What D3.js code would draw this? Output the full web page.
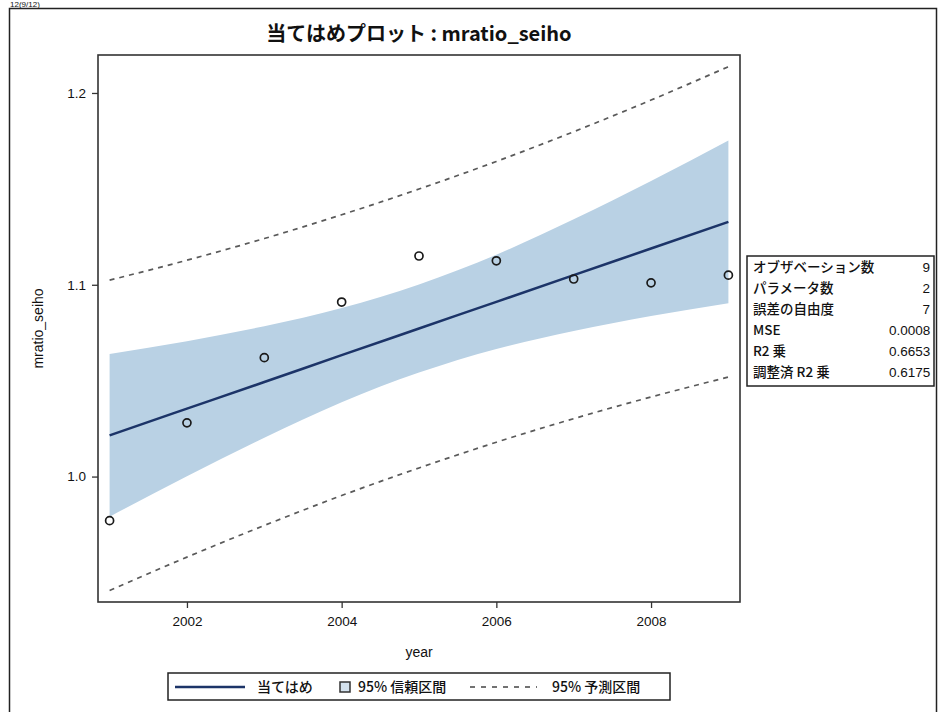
<!DOCTYPE html>
<html>
<head>
<meta charset="utf-8">
<script src="https://cdn.jsdelivr.net/npm/d3@7"></script>
<style>
    body { margin: 0; background: #fff; }
    text { font-family: "Liberation Sans", Arial, "Noto Sans CJK JP", sans-serif; fill: #111; }
    .jp { font-family: "Noto Sans CJK JP", "Liberation Sans", sans-serif; }
</style>
</head>
<body>
<div id="chart"></div>
<script>
// data
const years = [2001, 2002, 2003, 2004, 2005, 2006, 2007, 2008, 2009]
const observed = [0.977, 1.028, 1.062, 1.091, 1.115, 1.1125, 1.103, 1.101, 1.105]
const fitted = [1.0215, 1.0354, 1.0493, 1.0633, 1.0772, 1.0911, 1.1050, 1.1189, 1.1328]
const clLower = [0.9791, 1.0002, 1.0202, 1.0387, 1.0542, 1.0665, 1.0759, 1.0837, 1.0904]
const clUpper = [1.0639, 1.0706, 1.0784, 1.0879, 1.1002, 1.1157, 1.1341, 1.1541, 1.1752]
const plLower = [0.9406, 0.9580, 0.9745, 0.9901, 1.0045, 1.0179, 1.0302, 1.0415, 1.0519]
const plUpper = [1.1024, 1.1128, 1.1241, 1.1365, 1.1499, 1.1643, 1.1798, 1.1963, 1.2137]

const xTicks = [2002, 2004, 2006, 2008]
const yTicks = [1.0, 1.1, 1.2]
const yTickLabels = ['1.0', '1.1', '1.2']

const statLabels = ['オブザベーション数', 'パラメータ数', '誤差の自由度', 'MSE', 'R2 乗', '調整済 R2 乗']
const statValues = ['9', '2', '7', '0.0008', '0.6653', '0.6175']

const legendLabels = ['当てはめ', '95% 信頼区間', '95% 予測区間']

const title = '当てはめプロット : mratio_seiho'
const xLabel = 'year'
const yLabel = 'mratio_seiho'

const W = 939, H = 712
const plot = { left: 98, right: 740, top: 55, bottom: 602 }

const svg = d3.select('#chart')
    .append('svg')
    .attr('width', W)
    .attr('height', H)

const x = d3.scaleLinear().domain([2000.85, 2009.15]).range([plot.left, plot.right])
const y = d3.scaleLinear().domain([0.9346, 1.2198]).range([plot.bottom, plot.top])

/** Outer page frame, page number and title */
function drawPage(g) {
    g.append('text')
        .attr('x', 10)
        .attr('y', 7)
        .attr('font-size', 8)
        .text('12(9/12)')

    g.append('rect')
        .attr('x', 9.5)
        .attr('y', 8.5)
        .attr('width', 927)
        .attr('height', 720)
        .attr('fill', 'none')
        .attr('stroke', '#222')
        .attr('stroke-width', 1.5)

    g.append('text')
        .attr('class', 'jp')
        .attr('x', (plot.left + plot.right) / 2)
        .attr('y', 41)
        .attr('text-anchor', 'middle')
        .attr('font-size', 20)
        .attr('font-weight', 'bold')
        .text(title)
}

/** Band, prediction limits, fit line and points */
function drawMarks(g) {
    let band = d3.area()
        .x((d, i) => x(years[i]))
        .y0((d, i) => y(clLower[i]))
        .y1((d, i) => y(clUpper[i]))
        .curve(d3.curveMonotoneX)

    g.append('path')
        .datum(years)
        .attr('d', band)
        .attr('fill', '#b9d1e4')

    let line = vals => d3.line()
        .x((d, i) => x(years[i]))
        .y(d => y(d))
        .curve(d3.curveMonotoneX)(vals)

    g.selectAll('.pl')
        .data([plLower, plUpper])
        .enter()
        .append('path')
        .attr('class', 'pl')
        .attr('d', d => line(d))
        .attr('fill', 'none')
        .attr('stroke', '#5a5a5a')
        .attr('stroke-width', 1.7)
        .attr('stroke-dasharray', '5,5')

    g.append('path')
        .attr('d', line(fitted))
        .attr('fill', 'none')
        .attr('stroke', '#1c3468')
        .attr('stroke-width', 2.5)

    g.selectAll('.pt')
        .data(observed)
        .enter()
        .append('circle')
        .attr('class', 'pt')
        .attr('cx', (d, i) => x(years[i]))
        .attr('cy', d => y(d))
        .attr('r', 4)
        .attr('fill', 'none')
        .attr('stroke', '#1a1a1a')
        .attr('stroke-width', 1.7)
}

/** Axes, frame and axis titles */
function drawAxes(g) {
    g.append('g')
        .attr('transform', 'translate(0,' + plot.bottom + ')')
        .call(d3.axisBottom(x).tickValues(xTicks).tickFormat(d3.format('d')).tickSize(6).tickPadding(8))
        .call(a => a.select('.domain').remove())
        .call(a => a.selectAll('line').attr('stroke', '#333').attr('stroke-width', 1.3))
        .call(a => a.selectAll('text').attr('font-size', 13.5).attr('font-family', '"Liberation Sans", Arial').attr('fill', '#111'))

    g.append('g')
        .attr('transform', 'translate(' + plot.left + ',0)')
        .call(d3.axisLeft(y).tickValues(yTicks).tickFormat((d, i) => yTickLabels[i]).tickSize(6).tickPadding(6))
        .call(a => a.select('.domain').remove())
        .call(a => a.selectAll('line').attr('stroke', '#333').attr('stroke-width', 1.3))
        .call(a => a.selectAll('text').attr('font-size', 13.5).attr('font-family', '"Liberation Sans", Arial').attr('fill', '#111'))

    g.append('rect')
        .attr('x', plot.left)
        .attr('y', plot.top)
        .attr('width', plot.right - plot.left)
        .attr('height', plot.bottom - plot.top)
        .attr('fill', 'none')
        .attr('stroke', '#333')
        .attr('stroke-width', 1.6)

    g.append('text')
        .attr('x', (plot.left + plot.right) / 2)
        .attr('y', 657)
        .attr('text-anchor', 'middle')
        .attr('font-size', 14)
        .text(xLabel)

    g.append('text')
        .attr('transform', 'translate(43,' + (plot.top + plot.bottom) / 2 + ') rotate(-90)')
        .attr('text-anchor', 'middle')
        .attr('font-size', 14)
        .text(yLabel)
}

/** Inset table with fit statistics */
function drawStats(g) {
    let box = { x: 747, y: 256, w: 187, h: 130 }

    g.append('clipPath')
        .attr('id', 'stat-clip')
        .append('rect')
        .attr('x', box.x)
        .attr('y', box.y)
        .attr('width', box.w)
        .attr('height', box.h)

    let inset = g.append('g').attr('clip-path', 'url(#stat-clip)')

    inset.selectAll('.slabel')
        .data(statLabels)
        .enter()
        .append('text')
        .attr('class', 'jp')
        .attr('x', 753)
        .attr('y', (d, i) => 272 + i * 21)
        .attr('font-size', 13.5)
        .attr('font-weight', 500)
        .text(d => d)

    inset.selectAll('.svalue')
        .data(statValues)
        .enter()
        .append('text')
        .attr('x', d => d.includes('.') ? 889 : 930)
        .attr('y', (d, i) => 272 + i * 21)
        .attr('text-anchor', d => d.includes('.') ? 'start' : 'end')
        .attr('font-size', 13.5)
        .text(d => d)

    g.append('rect')
        .attr('x', box.x)
        .attr('y', box.y)
        .attr('width', box.w)
        .attr('height', box.h)
        .attr('fill', 'none')
        .attr('stroke', '#222')
        .attr('stroke-width', 1.5)
}

/** Legend under the plot */
function drawLegend(g) {
    let legend = g.append('g').attr('class', 'legend')

    legend.append('rect')
        .attr('x', 168)
        .attr('y', 673)
        .attr('width', 502)
        .attr('height', 27)
        .attr('fill', 'none')
        .attr('stroke', '#222')
        .attr('stroke-width', 1.5)

    legend.append('line')
        .attr('x1', 175).attr('x2', 245)
        .attr('y1', 687).attr('y2', 687)
        .attr('stroke', '#1c3468')
        .attr('stroke-width', 2.5)

    legend.append('rect')
        .attr('x', 340).attr('y', 682)
        .attr('width', 10).attr('height', 10)
        .attr('fill', '#d4e2ee')
        .attr('stroke', '#333')
        .attr('stroke-width', 1.5)

    legend.append('line')
        .attr('x1', 470).attr('x2', 537)
        .attr('y1', 687).attr('y2', 687)
        .attr('stroke', '#444')
        .attr('stroke-width', 1.3)
        .attr('stroke-dasharray', '5,6')

    legend.selectAll('.ltext')
        .data(legendLabels)
        .enter()
        .append('text')
        .attr('class', 'jp')
        .attr('x', (d, i) => [257, 358, 552][i])
        .attr('y', 692)
        .attr('font-size', 14)
        .attr('font-weight', 500)
        .text(d => d)
}

drawPage(svg)
drawMarks(svg)
drawAxes(svg)
drawStats(svg)
drawLegend(svg)
</script>
</body>
</html>
